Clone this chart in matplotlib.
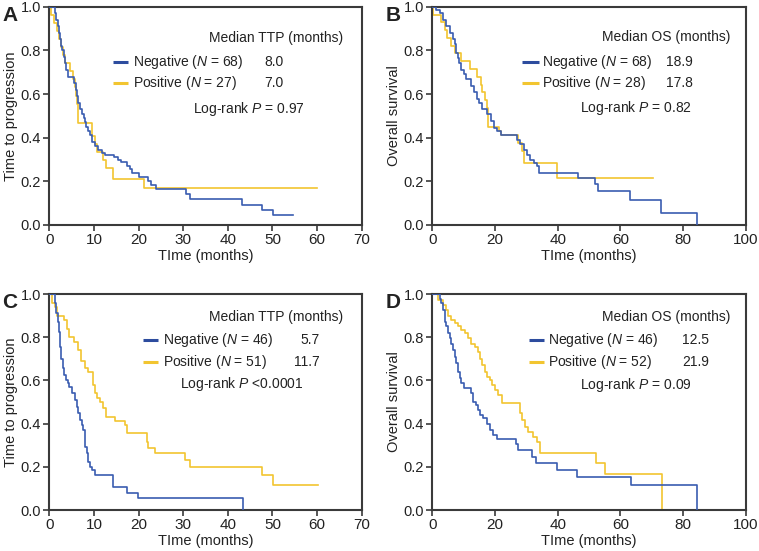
import matplotlib
matplotlib.use("Agg")
import matplotlib.pyplot as plt

plt.rcParams['font.family'] = ['Liberation Sans', 'DejaVu Sans']
plt.rcParams['mathtext.fontset'] = 'custom'
plt.rcParams['mathtext.rm'] = 'Liberation Sans'
plt.rcParams['mathtext.it'] = 'Liberation Sans:italic'
plt.rcParams['font.size'] = 10

# ---------------- data ----------------
A_neg_t = [0, 1.3, 1.6, 1.9, 2.1, 2.4, 2.6, 2.8, 3.2, 3.5, 3.7, 4.3, 5.5, 5.9, 6.2, 6.5, 6.9, 7.3, 7.7, 8.0,
           8.3, 8.6, 9.1, 9.5, 10.2, 11.0, 11.7, 12.4, 14.5, 15.3, 16.1, 17.3, 18.0, 18.5, 20.0, 22.1, 22.8,
           23.9, 30.6, 31.6, 43.2, 47.6, 50.1, 54.5]
A_neg_s = [1.0, 0.97, 0.94, 0.91, 0.88, 0.85, 0.82, 0.80, 0.77, 0.74, 0.71, 0.68, 0.65, 0.62, 0.59, 0.56, 0.53,
           0.51, 0.49, 0.47, 0.45, 0.43, 0.41, 0.38, 0.36, 0.345, 0.33, 0.32, 0.31, 0.30, 0.29, 0.27, 0.255,
           0.24, 0.22, 0.20, 0.183, 0.163, 0.142, 0.118, 0.093, 0.069, 0.046, 0.046]
A_pos_t = [0, 0.3, 1.0, 1.7, 2.2, 2.6, 3.0, 3.6, 4.7, 5.2, 5.8, 6.0, 6.3, 6.5, 9.5, 10.3, 10.8, 12.0, 12.8,
           14.3, 21.3, 60.0]
A_pos_s = [1.0, 0.963, 0.926, 0.889, 0.852, 0.815, 0.778, 0.741, 0.704, 0.667, 0.63, 0.593, 0.556, 0.467,
           0.407, 0.37, 0.333, 0.296, 0.259, 0.21, 0.168, 0.168]

B_neg_t = [0, 1.3, 2.3, 3.4, 4.4, 5.5, 6.5, 7.1, 7.6, 8.1, 8.6, 9.2, 10.0, 10.7, 12.3, 13.4, 14.2, 14.9, 15.7,
           17.4, 18.6, 19.7, 20.7, 21.8, 27.1, 28.1, 29.2, 30.2, 31.3, 32.3, 33.4, 34.2, 46.5, 52.0, 53.0,
           63.2, 73.1, 84.4]
B_neg_s = [1.0, 0.985, 0.97, 0.94, 0.91, 0.88, 0.85, 0.83, 0.79, 0.765, 0.74, 0.71, 0.69, 0.67, 0.635, 0.61,
           0.575, 0.56, 0.53, 0.51, 0.475, 0.445, 0.43, 0.41, 0.39, 0.37, 0.345, 0.32, 0.30, 0.283, 0.268,
           0.237, 0.216, 0.19, 0.155, 0.116, 0.057, 0.0]
B_pos_t = [0, 0.3, 2.7, 4.0, 4.8, 5.9, 7.4, 9.0, 12.0, 14.4, 15.5, 16.0, 16.7, 17.4, 17.8, 21.3, 21.8, 27.3,
           28.6, 29.2, 39.8, 70.5]
B_pos_s = [1.0, 0.964, 0.929, 0.893, 0.857, 0.821, 0.786, 0.75, 0.714, 0.679, 0.643, 0.607, 0.571, 0.536,
           0.45, 0.43, 0.413, 0.375, 0.34, 0.286, 0.214, 0.214]

C_neg_t = [0, 1.3, 1.6, 1.9, 2.1, 2.3, 2.4, 2.7, 3.0, 3.4, 3.7, 4.1, 4.4, 5.0, 5.8, 6.1, 6.5, 6.9, 7.3, 7.6,
           7.9, 8.1, 8.4, 8.7, 9.1, 9.5, 10.2, 14.3, 17.5, 19.9, 43.3]
C_neg_s = [1.0, 0.957, 0.913, 0.87, 0.826, 0.80, 0.756, 0.70, 0.656, 0.625, 0.60, 0.587, 0.57, 0.543, 0.51,
           0.478, 0.448, 0.417, 0.394, 0.37, 0.332, 0.293, 0.262, 0.224, 0.20, 0.185, 0.162, 0.108, 0.081,
           0.054, 0.0]
C_pos_t = [0, 0.5, 1.2, 1.8, 3.2, 3.9, 4.5, 5.6, 6.4, 7.1, 7.9, 8.7, 9.9, 10.2, 10.6, 11.4, 12.1, 12.8, 14.7,
           17.0, 17.3, 21.8, 22.2, 23.7, 30.4, 31.5, 47.6, 50.2, 60.3]
C_pos_s = [1.0, 0.96, 0.94, 0.90, 0.88, 0.84, 0.80, 0.78, 0.74, 0.69, 0.656, 0.637, 0.58, 0.54, 0.52, 0.50,
           0.47, 0.432, 0.41, 0.394, 0.355, 0.316, 0.285, 0.262, 0.23, 0.197, 0.162, 0.115, 0.115]

D_neg_t = [0, 2.3, 2.9, 3.4, 3.9, 4.5, 5.0, 5.5, 6.1, 6.6, 7.1, 7.7, 8.2, 8.7, 9.3, 10.1, 12.3, 13.0, 14.1,
           14.6, 15.1, 16.2, 17.3, 18.3, 19.4, 20.5, 26.6, 27.4, 31.7, 33.0, 39.9, 46.3, 63.3, 84.6]
D_neg_s = [1.0, 0.978, 0.957, 0.926, 0.87, 0.85, 0.82, 0.795, 0.77, 0.74, 0.71, 0.68, 0.64, 0.61, 0.586,
           0.565, 0.54, 0.50, 0.486, 0.463, 0.44, 0.424, 0.40, 0.37, 0.347, 0.33, 0.305, 0.278, 0.247, 0.216,
           0.185, 0.154, 0.115, 0.0]
D_pos_t = [0, 1.8, 3.4, 4.5, 5.0, 6.1, 7.1, 8.2, 9.3, 10.3, 11.4, 12.5, 13.5, 14.6, 15.1, 15.9, 16.7, 17.6,
           18.3, 18.9, 19.9, 21.0, 22.1, 27.9, 28.5, 29.5, 30.6, 32.2, 33.3, 34.3, 52.3, 55.0, 73.2]
D_pos_s = [1.0, 0.97, 0.95, 0.926, 0.90, 0.88, 0.864, 0.85, 0.833, 0.818, 0.795, 0.77, 0.756, 0.733, 0.70,
           0.67, 0.64, 0.617, 0.60, 0.58, 0.556, 0.532, 0.494, 0.447, 0.417, 0.386, 0.363, 0.34, 0.316, 0.265,
           0.216, 0.165, 0.0]

panel_letters = ["A", "B", "C", "D"]
ylabels = ["Time to progression", "Overall survival", "Time to progression", "Overall survival"]
xlabel = "TIme (months)"
median_titles = ["Median TTP (months)", "Median OS (months)", "Median TTP (months)", "Median OS (months)"]
neg_n = [68, 68, 46, 46]
pos_n = [27, 28, 51, 52]
neg_median = ["8.0", "18.9", "5.7", "12.5"]
pos_median = ["7.0", "17.8", "11.7", "21.9"]
pvals = ["Log-rank $\\mathit{P}$ = 0.97", "Log-rank $\\mathit{P}$ = 0.82",
         "Log-rank $\\mathit{P}$ <0.0001", "Log-rank $\\mathit{P}$ = 0.09"]
xmaxs = [70, 100, 70, 100]
xsteps = [10, 20, 10, 20]

curves = [(A_neg_t, A_neg_s, A_pos_t, A_pos_s), (B_neg_t, B_neg_s, B_pos_t, B_pos_s),
          (C_neg_t, C_neg_s, C_pos_t, C_pos_s), (D_neg_t, D_neg_s, D_pos_t, D_pos_s)]

BLUE = '#3a5cb0'
YELLOW = '#f2c530'
FRAME = '#3a3a3a'
TXT = '#222222'

# ---------------- layout ----------------
W, H = 759, 551
fig = plt.figure(figsize=(W / 100, H / 100), dpi=100)
rects = [(49.3, 6.7, 361.7, 225), (432.3, 6.7, 745.7, 225),
         (49.3, 294, 361.7, 510), (432.3, 294, 745.7, 510)]

# legend placement (axes fraction)
title_xy = [(0.941, 0.855), (0.952, 0.86), (0.941, 0.895), (0.952, 0.895)]
line_x = [(0.205, 0.253), (0.287, 0.34), (0.301, 0.349), (0.309, 0.356)]
row_y = [(0.745, 0.649), (0.745, 0.65), (0.787, 0.684), (0.787, 0.684)]
label_x = [0.269, 0.351, 0.363, 0.37]
val_x = [0.749, 0.83, 0.867, 0.883]
p_xy = [(0.818, 0.53), (0.83, 0.534), (0.813, 0.582), (0.83, 0.579)]

for i in range(4):
    x0, y0, x1, y1 = rects[i]
    ax = fig.add_axes([x0 / W, 1 - y1 / H, (x1 - x0) / W, (y1 - y0) / H])
    nt, ns, pt, ps = curves[i]
    ax.step(nt, ns, where='post', color=BLUE, lw=1.2, zorder=3)
    ax.step(pt, ps, where='post', color=YELLOW, lw=1.2, zorder=2)
    ax.set_xlim(0, xmaxs[i])
    ax.set_ylim(0, 1.0)
    ax.set_xticks(list(range(0, xmaxs[i] + 1, xsteps[i])))
    ax.set_yticks([0, 0.2, 0.4, 0.6, 0.8, 1.0])
    ax.set_yticklabels(["0.0", "0.2", "0.4", "0.6", "0.8", "1.0"])
    for sp in ax.spines.values():
        sp.set_color(FRAME)
        sp.set_linewidth(1.5)
    ax.tick_params(direction='out', length=4, width=1.2, color=FRAME, labelcolor=TXT, pad=2)
    ax.tick_params(axis='x', labelsize=11)
    ax.tick_params(axis='y', labelsize=10.5)
    ax.set_xlabel(xlabel, fontsize=10.5, color=TXT, labelpad=1)
    ax.set_ylabel(ylabels[i], fontsize=10.5, color=TXT, labelpad=2)

    # panel letter
    fig.text((x0 - 47) / W, 1 - (y0 - 1) / H, panel_letters[i], fontsize=15, fontweight='bold',
             color=TXT, ha='left', va='top')

    # legend block
    tx, ty = title_xy[i]
    ax.text(tx, ty, median_titles[i], transform=ax.transAxes, ha='right', va='center', fontsize=10, color=TXT)
    lx0, lx1 = line_x[i]
    yn, yp = row_y[i]
    ax.plot([lx0, lx1], [yn, yn], transform=ax.transAxes, color='#2d4c9e', lw=2.2, solid_capstyle='butt')
    ax.plot([lx0, lx1], [yp, yp], transform=ax.transAxes, color=YELLOW, lw=2.2, solid_capstyle='butt')
    ax.text(label_x[i], yn, "Negative ($\\mathit{N}$ = %d)" % neg_n[i], transform=ax.transAxes,
            ha='left', va='center', fontsize=10, color=TXT)
    ax.text(label_x[i], yp, "Positive ($\\mathit{N}$ = %d)" % pos_n[i], transform=ax.transAxes,
            ha='left', va='center', fontsize=10, color=TXT)
    ax.text(val_x[i], yn, neg_median[i], transform=ax.transAxes, ha='right', va='center',
            fontsize=10, color=TXT)
    ax.text(val_x[i], yp, pos_median[i], transform=ax.transAxes, ha='right', va='center',
            fontsize=10, color=TXT)
    px, py = p_xy[i]
    ax.text(px, py, pvals[i], transform=ax.transAxes, ha='right', va='center', fontsize=10, color=TXT)

fig.savefig("out.png", dpi=100)
